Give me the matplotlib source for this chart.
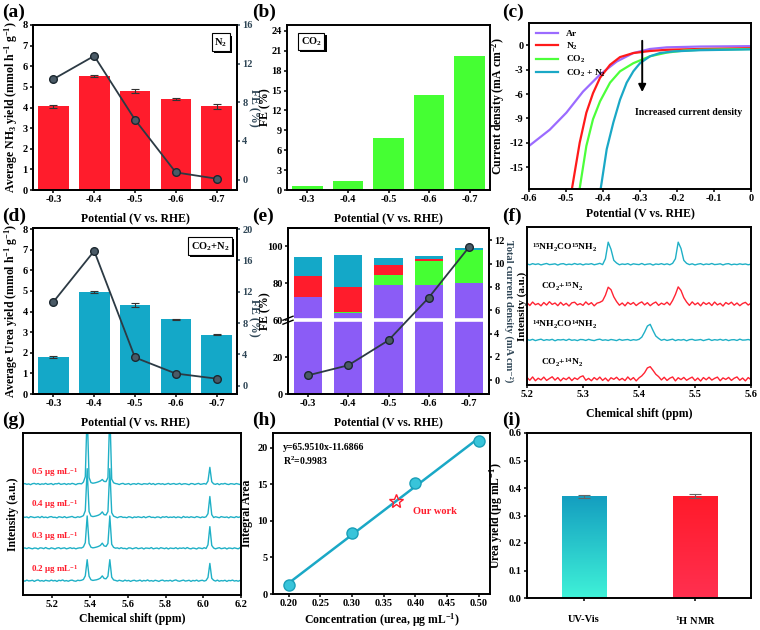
import numpy as np
import matplotlib
matplotlib.use("Agg")
import matplotlib.pyplot as plt
from matplotlib import patheffects
from matplotlib.colors import LinearSegmentedColormap

# ---------------- data ----------------
potentials = ["-0.3", "-0.4", "-0.5", "-0.6", "-0.7"]

# (a) N2 feed: NH3 yield + FE
nh3_yield = [4.05, 5.55, 4.80, 4.42, 4.05]
nh3_err = [0.05, 0.05, 0.10, 0.04, 0.12]
nh3_fe = [10.4, 12.8, 6.2, 0.75, 0.1]

# (b) CO2 feed: FE
co2_fe = [0.65, 1.3, 7.8, 14.35, 20.15]

# (c) LSV curves (V vs RHE, mA cm-2)
lsv_ar_x = [-0.6, -0.544, -0.499, -0.454, -0.408, -0.363, -0.318, -0.273, -0.228, -0.137, 0.0]
lsv_ar_y = [-12.4, -10.4, -8.3, -5.7, -3.6, -2.0, -0.95, -0.45, -0.25, -0.15, -0.1]
lsv_n2_x = [-0.487, -0.463, -0.445, -0.427, -0.408, -0.381, -0.354, -0.318, -0.273, -0.228, -0.137, 0.0]
lsv_n2_y = [-18.5, -12.0, -8.3, -5.9, -4.0, -2.4, -1.45, -0.95, -0.7, -0.55, -0.45, -0.35]
lsv_co2_x = [-0.466, -0.445, -0.427, -0.408, -0.381, -0.354, -0.318, -0.273, -0.228, -0.182, -0.137, 0.0]
lsv_co2_y = [-18.5, -12.4, -9.1, -6.9, -4.6, -3.2, -2.2, -1.35, -0.9, -0.65, -0.55, -0.45]
lsv_mix_x = [-0.409, -0.39, -0.372, -0.354, -0.336, -0.318, -0.3, -0.273, -0.246, -0.21, -0.137, 0.0]
lsv_mix_y = [-18.5, -12.8, -9.5, -6.7, -4.6, -3.2, -2.2, -1.35, -0.95, -0.75, -0.6, -0.5]

# (d) CO2+N2 feed: urea yield + FE
urea_yield = [1.78, 4.95, 4.33, 3.62, 2.87]
urea_err = [0.04, 0.06, 0.10, 0.04, 0.03]
urea_fe = [10.7, 17.2, 3.6, 1.55, 0.9]

# (e) stacked FE (%) and total current density
fe_purple = [72.5, 63.8, 79.1, 78.9, 80.2]
fe_green = [0.3, 0.6, 5.4, 13.4, 17.8]
fe_red = [11.2, 13.8, 5.7, 1.1, 0.1]
fe_cyan = [10.3, 17.1, 3.4, 1.5, 0.9]
total_j = [0.43, 1.29, 3.43, 7.08, 11.4]

# (f) 1H NMR isotope labelling, 5.20-5.60 ppm, step 0.005
f_ppm = np.linspace(5.2, 5.6, 81)
f_urea15 = [2, -3, 4, -1, 3, -4, 1, 5, -2, 0, 3, -5, 2, 4, -3, 1, -2, 5, -1, 3,
            -4, 2, 0, 4, -3, 1, 6, -2, 35, 140, 95, 25, 8, -3, 2, -1, 4, -4, 3, 0,
            -2, 5, -3, 1, 3, -5, 2, -1, 4, -2, 3, -3, 6, 35, 140, 100, 25, 6, -2, 3,
            -4, 1, 4, -3, 2, -1, 5, -2, 0, 3, -4, 2, 4, -3, 1, -2, 3, -1, 2, -3, 1]
f_gas15 = [8, -10, 12, -5, 3, -12, 9, -7, 14, -3, 6, -11, 10, -8, 4, -13, 7, 11, -6, 2,
           -9, 13, -4, 8, -12, 5, 10, 20, 55, 106, 90, 45, 15, -8, 6, -12, 10, -3, 9, -10,
           4, 13, -6, 8, -11, 3, 12, -9, 5, -4, 11, -7, 22, 60, 108, 85, 40, 12, -9, 13,
           -5, 7, -12, 10, -3, 8, -10, 12, -6, 4, -13, 9, -2, 11, -8, 6, -11, 3, 10, -7, 5]
f_urea14 = [3, -2, 4, -4, 1, 5, -3, 2, -1, 4, -5, 2, 0, 3, -3, 5, -2, 1, -4, 3,
            2, -3, 4, -1, -4, 2, 5, -2, 1, -3, 3, 0, -4, 4, -2, 1, 3, -3, 2, -1,
            4, 18, 50, 88, 99, 60, 25, 10, -2, 4, -3, 1, 5, -4, 2, -1, 3, -5, 2, 4,
            -2, 0, 3, -4, 1, 5, -3, 2, -1, 4, -2, 3, -4, 1, 2, -3, 5, -1, 0, 3, -2]
f_gas14 = [10, -8, 13, -11, 5, -6, 12, -9, 3, 14, -7, 9, -12, 6, -4, 11, -10, 7, -3, 13,
           20, -8, 4, -11, 9, -5, 12, -9, 6, -13, 8, -2, 11, -7, 4, -10, 13, -6, 9, -12,
           7, 20, 40, 70, 78, 55, 30, 15, -6, 11, -9, 5, 13, -12, 8, -4, 10, -8, 3, 12,
           -10, 6, -13, 9, -5, 11, -7, 4, 12, -11, 7, -3, 10, -9, 5, 13, -8, 6, -12, 9, -4]
f_names = [r"$^{15}$NH$_2$CO$^{15}$NH$_2$", r"CO$_2$+$^{15}$N$_2$",
           r"$^{14}$NH$_2$CO$^{14}$NH$_2$", r"CO$_2$+$^{14}$N$_2$"]

# (g) 1H NMR of urea standards, 5.045-6.195 ppm, step 0.01
g_ppm = np.linspace(5.045, 6.195, 116)
g_05 = [0, 3, -2, 1, -4, 2, 4, -1, 3, -3, 1, -1, 4, -2, 0, 3, -4, 2, 1, 5,
        -2, 0, 3, -3, 2, -1, 4, 1, -4, 2, 3, 1, 12, 45, 450, 40, 9, 5, 7, 10,
        14, 19, 28, 16, 15, 40, 450, 30, 8, 3, 1, -3, 2, 4, -2, 0, 3, -4, 1, 2,
        -2, 4, 0, -3, 2, 1, -1, 5, -2, 3, -4, 1, 3, -1, 2, -3, 0, 4, -2, 1,
        3, -2, 0, 4, -3, 1, 2, -1, -4, 3, 2, -3, 1, 4, -2, 0, 3, -1, 18, 103,
        14, 1, -2, 3, -4, 2, 0, 4, -1, -3, 2, 1, -2, 3, 0, -3]
g_04 = [3, -1, 2, -4, 4, 1, -2, 0, 3, -3, 5, -2, 1, -3, 2, 4, -1, 0, -4, 3,
        1, -2, 4, -3, 0, 2, 5, -1, -2, 3, 0, 4, 10, 40, 300, 35, 8, 4, 6, 9,
        13, 20, 33, 16, 14, 35, 300, 28, 7, 2, -3, 2, 4, -1, 0, -3, 3, 1, -4, 2,
        -1, 3, 0, -2, 4, -3, 2, 5, -1, 0, -3, 2, 1, -4, 3, 0, 4, -2, 1, -1,
        3, -3, 2, 0, -4, 5, -1, 2, -2, 3, 0, -2, 4, 1, -3, 2, -1, 3, 22, 128,
        16, -2, 3, 0, -3, 4, 1, -1, 2, -4, 3, 0, -2, 4, -1, 2]
g_03 = [-1, 3, -2, 4, 0, -3, 2, 1, -4, 3, 2, -2, 5, -1, -3, 3, 0, -4, 2, 4,
        -2, 1, 3, -3, 0, 4, -1, 2, -3, 1, 3, 2, 9, 35, 200, 30, 7, 3, 5, 8,
        12, 18, 32, 15, 12, 30, 200, 25, 6, 1, 3, -2, 4, -1, 0, -4, 3, 2, -3, 1,
        4, -2, 0, 3, -4, 2, 1, -1, 5, -3, 0, 2, -3, 4, 1, -2, 3, -4, 2, 0,
        -1, 4, -3, 2, 0, 3, -2, 5, -1, -3, 2, 0, -4, 3, 1, -2, 4, -1, 22, 134,
        18, 2, -3, 1, 4, -2, 0, 3, -4, 2, 1, -2, 3, 0, -3, 4]
g_02 = [2, -3, 4, -1, 0, 3, -4, 2, 5, -2, 1, -3, 3, 0, -2, 4, -1, 2, -4, 3,
        0, 5, -2, 1, -3, 2, 4, -1, -3, 3, 1, 3, 8, 30, 130, 28, 6, 2, 4, 6,
        10, 16, 30, 14, 12, 28, 130, 22, 5, 2, -2, 3, 0, -3, 4, -1, 2, -4, 1, 3,
        -2, 0, 4, -3, 2, -1, 5, -2, 1, -3, 3, 0, -4, 2, 4, -2, 1, -1, 3, -3,
        2, 5, -1, -3, 1, 4, -2, 0, 3, -4, 2, -1, 4, -3, 1, 3, -2, 2, 20, 107,
        15, 3, -2, 4, -3, 1, -1, 3, -4, 2, 0, 4, -2, 1, -3, 2]
g_names = [r"0.5 μg mL$^{-1}$", r"0.4 μg mL$^{-1}$", r"0.3 μg mL$^{-1}$", r"0.2 μg mL$^{-1}$"]

# (h) calibration
cal_conc = [0.2, 0.3, 0.4, 0.5]
cal_area = [1.2, 8.3, 15.2, 20.9]
fit_x = [0.2, 0.5]
fit_y = [1.5, 21.3]
our_conc, our_area = 0.37, 12.7

# (i) method comparison
methods = ["UV-Vis", r"$^{1}$H NMR"]
method_yield = [0.37, 0.37]
method_err = [0.005, 0.007]

# ---------------- style ----------------
plt.rcParams["font.family"] = ["Liberation Serif", "DejaVu Serif"]
plt.rcParams["font.weight"] = "bold"
plt.rcParams["axes.labelweight"] = "bold"
plt.rcParams["axes.unicode_minus"] = False
plt.rcParams["mathtext.fontset"] = "custom"
plt.rcParams["mathtext.rm"] = "Liberation Serif:bold"
plt.rcParams["mathtext.it"] = "Liberation Serif:italic:bold"
plt.rcParams["mathtext.bf"] = "Liberation Serif:bold"
plt.rcParams["mathtext.default"] = "bf"

RED = "#ff1c2c"
GREEN = "#45ff33"
CYAN = "#14a8c8"
PURPLE = "#8b5cf6"
SLATE = "#2f4656"
SPEC_C = "#1fb0c6"
SPEC_R = "#ff2433"
TS = 7.5   # tick size
LS = 8.5   # label size


def style(ax):
    ax.tick_params(direction="out", length=2.5, width=1.1, labelsize=TS, pad=1.3)
    for s in ax.spines.values():
        s.set_linewidth(1.4)


def boxlabel(ax, x, y, s):
    t = ax.text(x, y, s, transform=ax.transAxes, ha="center", va="center", fontsize=7.5,
                bbox=dict(boxstyle="square,pad=0.25", fc="white", ec="black", lw=0.8), zorder=10)
    t.get_bbox_patch().set_path_effects([
        patheffects.SimplePatchShadow(offset=(1.5, -1.5), shadow_rgbFace="black", alpha=1.0),
        patheffects.Normal()])


def fe_line(ax, vals):
    ax.plot(np.arange(5), vals, color="#2c3a44", lw=1.3, marker="o", ms=5.5,
            mfc="#4a5a66", mec="#1c2830", mew=1.0, zorder=5)


def right_label(ax, s, xpos, ypos=0.5, size=LS):
    # reads downward; xpos = left edge of the text in axes fraction
    ax.set_ylabel(s, rotation=270, fontsize=size, color=SLATE, va="bottom")
    ax.yaxis.set_label_coords(xpos, ypos)


def rect(l, t, r, b):
    return [l / 760, 1 - b / 630, (r - l) / 760, (b - t) / 630]


fig = plt.figure(figsize=(7.6, 6.3), dpi=100)
x5 = np.arange(5)
ekw = dict(ecolor="#333333", elinewidth=0.8, capthick=0.8)

# (a)
ax = fig.add_axes(rect(33, 25, 237, 190))
ax.bar(x5, nh3_yield, width=0.75, color=RED, yerr=nh3_err, capsize=3, error_kw=ekw)
ax.set_xlim(-0.5, 4.5)
ax.set_ylim(0, 8)
ax.set_yticks(range(9))
ax.set_xticks(x5, potentials)
ax.set_ylabel(r"Average NH$_3$ yield (mmol h$^{-1}$ g$^{-1}$)", fontsize=LS, labelpad=2)
ax.set_xlabel("Potential (V vs. RHE)", fontsize=LS, labelpad=6)
style(ax)
boxlabel(ax, 0.92, 0.895, r"N$_2$")
ax2 = ax.twinx()
fe_line(ax2, nh3_fe)
ax2.set_ylim(-1.07, 16)
ax2.set_yticks([0, 4, 8, 12, 16])
right_label(ax2, "FE (%)", 1.054)
style(ax2)
ax2.tick_params(axis="y", colors=SLATE)

# (b)
ax = fig.add_axes(rect(287, 25, 490, 190))
ax.bar(x5, co2_fe, width=0.75, color=GREEN)
ax.set_xlim(-0.5, 4.5)
ax.set_ylim(0, 24.9)
ax.set_yticks(np.arange(0, 25, 3))
ax.set_xticks(x5, potentials)
ax.set_ylabel("FE (%)", fontsize=LS)
ax.yaxis.set_label_coords(-0.079, 0.5)
ax.set_xlabel("Potential (V vs. RHE)", fontsize=LS, labelpad=6)
style(ax)
boxlabel(ax, 0.12, 0.9, r"CO$_2$")

# (c)
ax = fig.add_axes(rect(529, 23, 751, 189))
ax.plot(lsv_ar_x, lsv_ar_y, color="#9b6bff", lw=1.6, label="Ar")
ax.plot(lsv_n2_x, lsv_n2_y, color="#ff1a1a", lw=1.6, label=r"N$_2$")
ax.plot(lsv_co2_x, lsv_co2_y, color="#4cff3a", lw=1.6, label=r"CO$_2$")
ax.plot(lsv_mix_x, lsv_mix_y, color="#1aa8c6", lw=1.6, label=r"CO$_2$ + N$_2$")
ax.set_xlim(-0.6, 0)
ax.set_ylim(-17.7, 2.75)
ax.set_xticks([-0.6, -0.5, -0.4, -0.3, -0.2, -0.1, 0], ["-0.6", "-0.5", "-0.4", "-0.3", "-0.2", "-0.1", "0"])
ax.set_yticks([0, -3, -6, -9, -12, -15])
ax.set_ylabel(r"Current density (mA cm$^{-2}$)", fontsize=LS, labelpad=2)
ax.set_xlabel("Potential (V vs. RHE)", fontsize=LS, labelpad=3)
ax.legend(loc="upper left", frameon=False, fontsize=6.8, handlelength=2.4, labelspacing=0.25,
          borderaxespad=0.3, bbox_to_anchor=(0.0, 1.0))
ax.annotate("", xy=(-0.294, -6.1), xytext=(-0.294, 0.9),
            arrowprops=dict(arrowstyle="-|>", color="black", lw=1.4, mutation_scale=11))
ax.text(-0.313, -8.3, "Increased current density", fontsize=7, va="center", ha="left")
style(ax)

# (d)
ax = fig.add_axes(rect(33, 228, 237, 394))
ax.bar(x5, urea_yield, width=0.75, color=CYAN, yerr=urea_err, capsize=3, error_kw=ekw)
ax.set_xlim(-0.5, 4.5)
ax.set_ylim(0, 8.05)
ax.set_yticks(range(9))
ax.set_xticks(x5, potentials)
ax.set_ylabel(r"Average Urea yield (mmol h$^{-1}$ g$^{-1}$)", fontsize=LS, labelpad=2)
ax.set_xlabel("Potential (V vs. RHE)", fontsize=LS, labelpad=6)
style(ax)
boxlabel(ax, 0.868, 0.89, r"CO$_2$+N$_2$")
ax2 = ax.twinx()
fe_line(ax2, urea_fe)
ax2.set_ylim(-1.06, 20.13)
ax2.set_yticks([0, 4, 8, 12, 16, 20])
right_label(ax2, "FE (%)", 1.054, ypos=0.46)
style(ax2)
ax2.tick_params(axis="y", colors=SLATE)


# (e) broken axis: 40-60 % cut out
def brk_fwd(v):
    v = np.asarray(v, float)
    return np.where(v <= 40, v, np.where(v >= 60, v - 20, 40.0))


def brk_inv(u):
    u = np.asarray(u, float)
    return np.where(u <= 40, u, u + 20)


ax = fig.add_axes(rect(288, 228, 489, 394))
ax.set_yscale("function", functions=(brk_fwd, brk_inv))
bottom = np.zeros(5)
for vals, col in [(fe_purple, PURPLE), (fe_green, GREEN), (fe_red, RED), (fe_cyan, CYAN)]:
    ax.bar(x5, vals, bottom=bottom, width=0.7, color=col)
    bottom = bottom + np.array(vals)
ax.axhline(50, color="white", lw=2.6, zorder=2.2)
ax.set_xlim(-0.5, 4.5)
ax.set_ylim(0, 110)
ax.set_yticks([0, 20, 60, 80, 100])
ax.yaxis.set_major_formatter(matplotlib.ticker.FuncFormatter(lambda v, p: f"{v:.0f}"))
ax.yaxis.set_minor_locator(matplotlib.ticker.NullLocator())
ax.set_xticks(x5, potentials)
ax.set_ylabel("FE (%)", fontsize=LS)
ax.yaxis.set_label_coords(-0.082, 0.5)
ax.set_xlabel("Potential (V vs. RHE)", fontsize=LS, labelpad=6)
style(ax)
yb = 40 / 90
ax.plot([0, 0], [yb - 0.014, yb + 0.014], color="white", lw=2.5, transform=ax.transAxes, clip_on=False, zorder=6)
for off in (-0.012, 0.012):
    ax.plot([-0.025, 0.025], [yb + off - 0.012, yb + off + 0.012], color="black", lw=1.0,
            transform=ax.transAxes, clip_on=False, zorder=7)
ax2 = ax.twinx()
fe_line(ax2, total_j)
ax2.set_ylim(-1.17, 13.05)
ax2.set_yticks(np.arange(0, 13, 2))
right_label(ax2, "Total current density (mA cm⁻²)", 1.074, size=7.5)
style(ax2)

# (f)
ax = fig.add_axes(rect(527, 227, 751, 385))
f_offsets = [0.764, 0.513, 0.285, 0.038]
f_colors = [SPEC_C, SPEC_R, SPEC_C, SPEC_R]
f_label_x = [5.209, 5.225, 5.209, 5.225]
f_label_y = [0.869, 0.62, 0.38, 0.139]
for vals, off, col, nm, lx, ly in zip([f_urea15, f_gas15, f_urea14, f_gas14], f_offsets, f_colors,
                                      f_names, f_label_x, f_label_y):
    ax.plot(f_ppm, off + np.array(vals) / 1000, color=col, lw=1.0)
    ax.text(lx, ly, nm, fontsize=6.8, va="center", ha="left")
ax.set_xlim(5.2, 5.6)
ax.set_ylim(0, 1)
ax.set_yticks([])
ax.set_xticks([5.2, 5.3, 5.4, 5.5, 5.6])
ax.set_ylabel("Intensity (a.u.)", fontsize=8)
ax.yaxis.set_label_coords(0.0, 0.5)
ax.set_xlabel("Chemical shift (ppm)", fontsize=LS, labelpad=6)
style(ax)

# (g)
ax = fig.add_axes(rect(23, 433, 241, 595))
g_offsets = [0.685, 0.48, 0.288, 0.088]
g_label_y = [0.759, 0.556, 0.36, 0.159]
for vals, off, nm, ly in zip([g_05, g_04, g_03, g_02], g_offsets, g_names, g_label_y):
    ax.plot(g_ppm, off + np.array(vals) / 1000, color=SPEC_C, lw=1.0)
    ax.text(5.087, ly, nm, fontsize=6.5, color=RED, va="center", ha="left")
ax.set_xlim(5.045, 6.2)
ax.set_ylim(0, 1)
ax.set_yticks([])
ax.set_xticks([5.2, 5.4, 5.6, 5.8, 6.0, 6.2])
ax.set_ylabel("Intensity (a.u.)", fontsize=LS, labelpad=3)
ax.set_xlabel("Chemical shift (ppm)", fontsize=LS, labelpad=3)
style(ax)

# (h)
ax = fig.add_axes(rect(273, 433, 490, 594))
ax.plot(fit_x, fit_y, color="#1aa8c6", lw=1.8, zorder=2)
ax.plot(cal_conc, cal_area, "o", ms=8, mfc="#38c4da", mec="#1a9fb8", mew=1.0, zorder=3)
ax.plot([our_conc], [our_area], "*", ms=10, mfc="none", mec=RED, mew=1.0, zorder=4)
ax.text(0.397, 11.3, "Our work", color=RED, fontsize=7.5, va="center", ha="left")
ax.text(0.191, 20.0, "y=65.9510x-11.6866", fontsize=7, va="center", ha="left")
ax.text(0.191, 18.2, r"R$^{2}$=0.9983", fontsize=7, va="center", ha="left")
ax.set_xlim(0.175, 0.518)
ax.set_ylim(0, 22)
ax.set_xticks([0.2, 0.25, 0.3, 0.35, 0.4, 0.45, 0.5], ["0.20", "0.25", "0.30", "0.35", "0.40", "0.45", "0.50"])
ax.set_yticks([0, 5, 10, 15, 20])
ax.set_ylabel("Integral Area", fontsize=LS, labelpad=3)
ax.set_xlabel(r"Concentration (urea, μg mL$^{-1}$)", fontsize=LS, labelpad=2)
style(ax)

# (i)
ax = fig.add_axes(rect(527, 433, 751, 598))
bars = ax.bar([0, 1], method_yield, width=0.4, yerr=method_err, capsize=4,
              error_kw=dict(ecolor="#666666", elinewidth=0.8, capthick=0.8, zorder=5))
grads = [("#3ff2d8", "#149ec0"), ("#ff3050", "#ff1a2a")]
ramp = np.linspace(0, 1, 256).reshape(-1, 1)
for b, (cb, ct) in zip(bars, grads):
    x0, y0 = b.get_xy()
    im = ax.imshow(ramp, cmap=LinearSegmentedColormap.from_list("g", [cb, ct]), origin="lower",
                   extent=[x0, x0 + b.get_width(), y0, y0 + b.get_height()], aspect="auto", zorder=2)
    im.set_clip_path(b)
    b.set_facecolor("none")
    b.set_edgecolor("none")
ax.set_xlim(-0.51, 1.5)
ax.set_ylim(0, 0.6)
ax.set_yticks(np.arange(0, 0.61, 0.1), [f"{v:.1f}" for v in np.arange(0, 0.61, 0.1)])
ax.set_xticks([0, 1], methods)
ax.set_ylabel(r"Urea yield (μg mL$^{-1}$)", fontsize=LS, labelpad=3)
style(ax)
ax.tick_params(axis="x", pad=10, length=2)

# panel letters
for s, px, py in [("(a)", 2, 12), ("(b)", 252, 12), ("(c)", 502, 12),
                  ("(d)", 2, 216), ("(e)", 252, 216), ("(f)", 502, 216),
                  ("(g)", 2, 420), ("(h)", 252, 420), ("(i)", 502, 420)]:
    fig.text(px / 760, 1 - py / 630, s, fontsize=14, fontweight="bold", va="center", ha="left")

fig.savefig("out.png", dpi=100)
